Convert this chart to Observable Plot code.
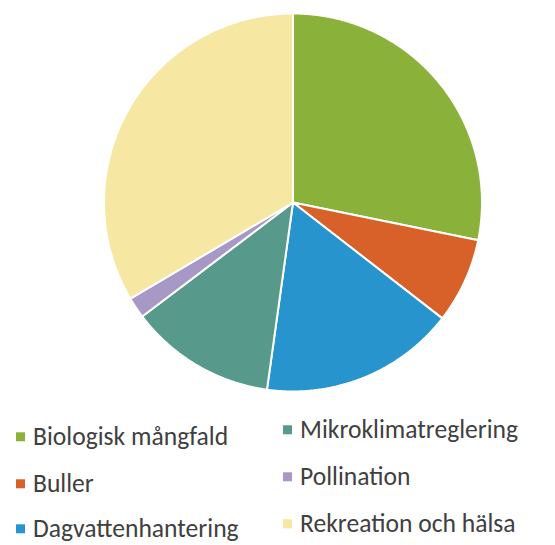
<!DOCTYPE html>
<html>
<head>
<meta charset="utf-8">
<script src="https://cdn.jsdelivr.net/npm/d3@7"></script>
<script src="https://cdn.jsdelivr.net/npm/@observablehq/plot@0.6"></script>
<style>
  html, body { margin: 0; padding: 0; background: #fff; }
  #wrap { position: relative; width: 555px; height: 545px; overflow: hidden; }
  #legend { position: absolute; left: 0; top: 0; width: 555px; height: 545px; pointer-events: none;
    font-family: Carlito, Calibri, Lato, "Open Sans", sans-serif; font-size: 25.6px; color: #404040; }
  .item { position: absolute; display: flex; align-items: center; white-space: nowrap; transform: translateY(-50%); line-height: 1.15; }
  .sw { width: 9px; height: 9px; margin-right: 8px; flex: none; }
</style>
</head>
<body>
<div id="wrap"><div id="chart"></div><div id="legend"></div></div>
<script>
const categories = ["Biologisk mångfald", "Buller", "Dagvattenhantering", "Mikroklimatreglering", "Pollination", "Rekreation och hälsa"];
const values = [28.2, 7.3, 16.7, 12.5, 1.8, 33.5];
const colors = ["#8AB23B", "#D8612A", "#2894CD", "#57998A", "#A898C5", "#F6E8A2"];

const W = 555, H = 410, cx = 292.5, cy = 202, R = 189;

const arcs = d3.pie().sort(null).value(d => d)(values);
const pts = [];
arcs.forEach((a, i) => {
  const name = categories[i];
  pts.push({name, x: 0, y: 0});
  const n = Math.max(2, Math.ceil((a.endAngle - a.startAngle) / 0.005));
  for (let k = 0; k <= n; k++) {
    const t = a.startAngle + (a.endAngle - a.startAngle) * k / n;
    pts.push({name, x: Math.sin(t), y: Math.cos(t)});
  }
  pts.push({name, x: 0, y: 0});
});

const chart = Plot.plot({
  width: W, height: H, margin: 0,
  x: {domain: [-cx / R, (W - cx) / R], axis: null},
  y: {domain: [-(H - cy) / R, cy / R], axis: null},
  color: {domain: categories, range: colors},
  marks: [
    Plot.line(pts, {x: "x", y: "y", z: "name", fill: "name", stroke: "white", strokeWidth: 2, strokeLinejoin: "round", curve: "linear"})
  ]
});
document.getElementById("chart").appendChild(chart);

const legendPos = [
  [16, 437], [16, 484], [16, 529],
  [283, 430], [283, 477], [283, 524]
];
const legend = document.getElementById("legend");
categories.forEach((c, i) => {
  const el = document.createElement("div");
  el.className = "item";
  el.style.left = legendPos[i][0] + "px";
  el.style.top = legendPos[i][1] + "px";
  el.innerHTML = `<span class="sw" style="background:${colors[i]}"></span><span>${c}</span>`;
  legend.appendChild(el);
});
</script>
</body>
</html>
